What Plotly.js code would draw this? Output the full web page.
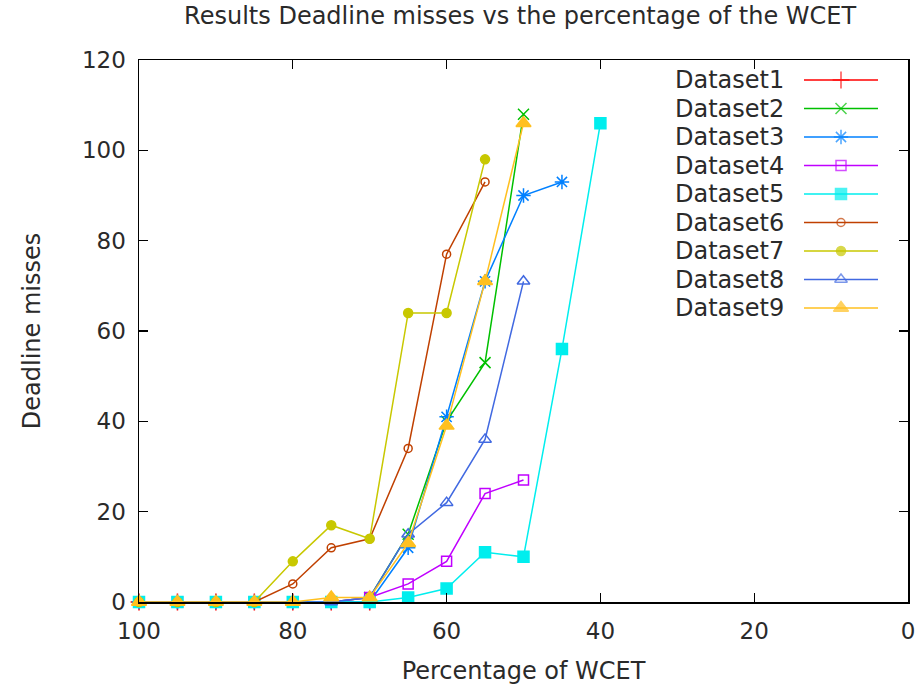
<!DOCTYPE html>
<html>
<head>
<meta charset="utf-8">
<script src="https://cdn.plot.ly/plotly-3.0.1.min.js"></script>
<style>html,body{margin:0;padding:0;background:#fff;}#chart{width:919px;height:691px;}</style>
</head>
<body>
<div id="chart"></div>
<script>
// ---- data ----
const percent = [100, 95, 90, 85, 80, 75, 70, 65, 60, 55, 50, 45, 40];
const seriesNames = ["Dataset1","Dataset2","Dataset3","Dataset4","Dataset5","Dataset6","Dataset7","Dataset8","Dataset9"];
const dataset1 = [0, 0, 0, 0, 0, 0, 0];
const dataset2 = [0, 0, 0, 0, 0, 0, 1, 15, 40, 53, 108];
const dataset3 = [0, 0, 0, 0, 0, 0, 0, 12, 41, 71, 90, 93];
const dataset4 = [0, 0, 0, 0, 0, 0, 1, 4, 9, 24, 27];
const dataset5 = [0, 0, 0, 0, 0, 0, 0, 1, 3, 11, 10, 56, 106];
const dataset6 = [0, 0, 0, 0, 4, 12, 14, 34, 77, 93];
const dataset7 = [0, 0, 0, 0, 9, 17, 14, 64, 64, 98];
const dataset8 = [0, 0, 0, 0, 0, 0, 1, 15, 22, 36, 71];
const dataset9 = [0, 0, 0, 0, 0, 1, 1, 13, 39, 71, 106];
const xTicks = [100, 80, 60, 40, 20, 0];
const yTicks = [0, 20, 40, 60, 80, 100, 120];

// ---- styles ----
const values = [dataset1, dataset2, dataset3, dataset4, dataset5, dataset6, dataset7, dataset8, dataset9];
const colors = ["#ff0000","#00c000","#0080ff","#c000ff","#00eeee","#c04000","#c8c800","#4169e1","#ffc020"];
const symbols = ["cross-thin-open","x-thin-open","asterisk-open","square-open","square","circle-open","circle","triangle-up-open","triangle-up"];
const sizes = [12, 11, 12, 10, 11, 8, 9, 11, 13];
const FONT = "DejaVu Sans, sans-serif";
const TXT = "#2a2a2a";

const traces = [];
values.forEach((v, i) => {
  traces.push({
    type: "scatter", mode: "lines+markers",
    x: percent.slice(0, v.length), y: v,
    name: seriesNames[i], showlegend: false, cliponaxis: false,
    line: {color: colors[i], width: 1.5},
    marker: {symbol: symbols[i], size: sizes[i], color: colors[i], line: {color: colors[i], width: 1.5}}
  });
});

// custom gnuplot-style legend (text left, sample right) on a pixel-offset overlay axis
const annotations = [];
const rowTop = 20, rowStep = 28.5;
const lineL = 665, lineR = 739, textX = 534;
seriesNames.forEach((n, i) => {
  const yy = rowTop + rowStep * i;
  traces.push({
    type: "scatter", mode: "lines+markers", xaxis: "x2", yaxis: "y2",
    x: [lineL, (lineL + lineR) / 2, lineR], y: [yy, yy, yy],
    showlegend: false, hoverinfo: "skip", cliponaxis: false,
    line: {color: colors[i], width: 1.5},
    marker: {symbol: symbols[i], size: [0, sizes[i], 0], color: colors[i], line: {color: colors[i], width: 1.5}}
  });
  annotations.push({
    xref: "x2", yref: "y2", x: textX, y: yy, text: n, showarrow: false,
    xanchor: "left", yanchor: "middle", font: {family: FONT, size: 24, color: TXT}
  });
});

const axisCommon = {
  showline: true, linecolor: "#000", linewidth: 1.5, mirror: "ticks",
  ticks: "inside", ticklen: 9, tickwidth: 1.2, tickcolor: "#000",
  showgrid: false, zeroline: false,
  tickfont: {family: FONT, size: 23, color: TXT}
};

const layout = {
  width: 919, height: 691,
  margin: {l: 139, r: 11, t: 60, b: 89},
  paper_bgcolor: "#fff", plot_bgcolor: "#fff",
  title: {text: "Results Deadline misses vs the percentage of the WCET", x: 0.566, xanchor: "center", y: 0.978, yanchor: "middle", font: {family: FONT, size: 24, color: TXT}},
  xaxis: Object.assign({}, axisCommon, {
    range: [100, 0], tickvals: xTicks, ticktext: xTicks.map(String), ticklabelstandoff: 8,
    title: {text: "Percentage of WCET", standoff: 19, font: {family: FONT, size: 24, color: TXT}}
  }),
  yaxis: Object.assign({}, axisCommon, {
    range: [0, 120], tickvals: yTicks, ticktext: yTicks.map(String), ticklabelstandoff: 7,
    title: {text: "Deadline misses", standoff: 34, font: {family: FONT, size: 24, color: TXT}}
  }),
  xaxis2: {overlaying: "x", range: [0, 769], visible: false, fixedrange: true},
  yaxis2: {overlaying: "y", range: [542, 0], visible: false, fixedrange: true},
  annotations: annotations,
  showlegend: false
};

Plotly.newPlot("chart", traces, layout, {displayModeBar: false, staticPlot: true});
</script>
</body>
</html>
